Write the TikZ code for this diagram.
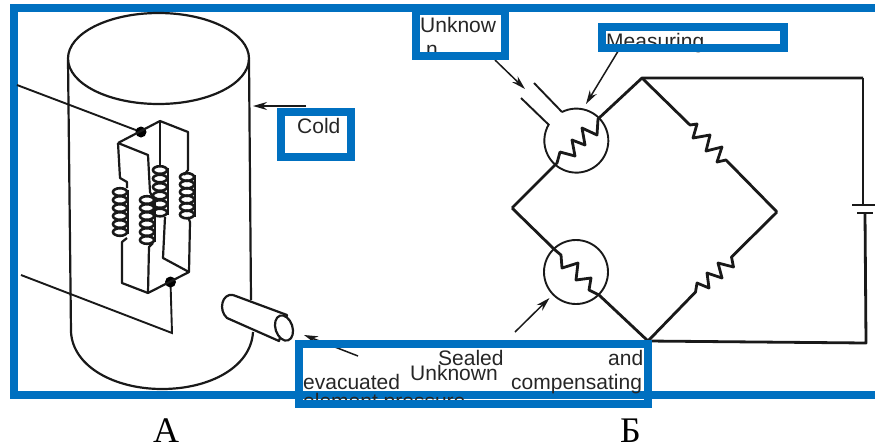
\documentclass[tikz,border=0pt]{standalone}
\usepackage{fontspec}
\setmainfont{Liberation Serif}
\newfontfamily\boxfont{Liberation Sans}
\usetikzlibrary{calc}
\usetikzlibrary{arrows.meta}

\definecolor{boxblue}{HTML}{0070C0}
\tikzset{
  bluebox/.style={draw=boxblue,line width=8pt},
  boxtext/.style={anchor=base west,inner sep=0pt,text=black!85,font=\boxfont\fontsize{21}{24}\selectfont},
  caption/.style={anchor=base west,inner sep=0pt,font=\fontsize{36}{40}\selectfont},
  body/.style={black!90,line width=2.2pt,line join=round},
  wire/.style={black!90,line width=2.8pt,line join=round},
  thinwire/.style={black!90,line width=1.9pt},
  pointer/.style={black!90,line width=1.5pt,-{Stealth[length=14pt,width=8pt]}},
  ring/.style={black!90,line width=2.6pt},
}
\newcommand{\coilstack}[3]{%
  \foreach \k in {0,...,5} \draw[ring] (#1,#2+\k*#3) ellipse (7 and 3.8);
  \draw[ring] (#1+8,#2-2) -- (#1+8,#2+5*#3+2);
}

\begin{document}
\begin{tikzpicture}[x=1pt,y=-1pt]
\useasboundingbox (0,0) rectangle (875,445);

% outer frame
\coordinate (FA) at (875,8);
\coordinate (FB) at (14,8);
\coordinate (FC) at (14,395);
\coordinate (FD) at (875,395);
\draw[bluebox] (FA)--(FB)--(FC)--(FD);

% vessel
\draw[body] (158.5,58.5) ellipse (90.5 and 45.5);
\draw[body] (68,60) -- (71,332) .. controls (73,367) and (115,389) .. (162,389)
  .. controls (210,389) and (251,367) .. (253,332);
\draw[body] (249,60) -- (251,300);

% leads
\coordinate (DA) at (141,132);
\coordinate (DB) at (170.5,282);
\coordinate (LC) at (172,333);
\draw[thinwire] (17,85) -- (DA);
\draw[thinwire] (21,275) -- (LC) -- (DB);
\fill[black] (DA) circle (5.5);
\fill[black] (DB) circle (5.5);

% element frame
\coordinate (PA) at (118,143);
\coordinate (PB) at (160,121);
\coordinate (PC) at (188,132);
\coordinate (PD) at (189,272);
\coordinate (PE) at (148,293);
\coordinate (PF) at (122,283);
\draw[body] (PA)--(PB)--(PC)--(188,170)--(184,175);
\draw[body] (188,217)--(190,222)--(PD)--(PE)--(PF)--(122,242)--(127,238);
\draw[body] (PA)--(120,178)--(127,182)--(127,188);
\draw[body] (PA)--(148,155)--(150,192)--(153,198);
\draw[body] (153,243)--(149,247)--(PE);
\draw[body] (PB)--(160,165);
\draw[body] (165,217)--(163,258)--(PD);
\coilstack{120}{192}{8}
\coilstack{147}{200}{8}
\coilstack{160}{170}{8.5}
\coilstack{187}{177}{7.5}

% side tube
\coordinate (TA) at (233,295);
\coordinate (TB) at (287,315);
\coordinate (TC) at (279,341);
\coordinate (TD) at (227,318);
\filldraw[body,fill=white] (TA)--(TB)--(TC)--(TD) .. controls (218,310) and (222,293) .. (TA);
\draw[body,fill=white,rotate around={18:(284,328)}] (284,328) ellipse (8.5 and 13);

% bridge
\coordinate (top) at (642,78);
\coordinate (left) at (512,208);
\coordinate (right) at (777,212);
\coordinate (bottom) at (648,341);
\coordinate (corner) at (863,78);
\coordinate (corneb) at (866,343);
\coordinate (platea) at (863,205);
\coordinate (plateb) at (865,213);
\coordinate (gaugea) at (577,142);
\coordinate (gaugeb) at (576,272);

\draw[wire] (corner) -- (top) -- (598,119) -- (597,135) -- (582,128) -- (585,145) -- (572,140)
  -- (575,156) -- (560,152) -- (557,163) -- (left);
\draw[wire] (left) -- (555,250) -- (561,255) -- (562,268) -- (578,263) -- (576,280)
  -- (591,278) -- (589,290) -- (599,295) -- (bottom);
\draw[wire] (top) -- (690,125) -- (697,124) -- (693,138) -- (710,135) -- (706,151)
  -- (722,147) -- (717,162) -- (726,160) -- (right);
\draw[wire] (bottom) -- (695.5,292) -- (697,283) -- (709,288) -- (707,273) -- (722,278)
  -- (718,263) -- (733.5,267) -- (731.5,257) -- (right);
\draw[wire] (corner) -- (platea);
\draw[wire] (plateb) -- (corneb) -- (bottom);
\draw[wire] (852,205) -- (875,205);
\draw[wire] (857,213) -- (873,213);

% gauges
\draw[thinwire] (gaugea) ++(-15,-30) arc[start angle=243.4,end angle=571.3,radius=32];
\draw[thinwire] (gaugeb) circle (32);
\draw[thinwire] (562,112) -- (534,83);
\draw[thinwire] (549,125) -- (521,98);

% pointers
\coordinate (AA) at (306,106);
\coordinate (AB) at (253,106);
\draw[pointer] (AA) -- (AB);
\draw[pointer] (358,356) -- (304,335);
\draw[pointer] (495,60) -- (525,89);
\draw[pointer] (620,48) -- (586,104);
\draw[pointer] (515,332) -- (549.5,298);

% box texts
\node[boxtext] (cold) at (297,133) {Cold};
\node[boxtext] (unkna) at (420,32) {Unknow};
\node[boxtext] (unknb) at (426,56) {n};
\node[boxtext] (meas) at (606,48) {Measuring};
\begin{scope}
\clip (303,348) rectangle (644,399.5);
\node[boxtext] (sealed) at (438,365) {Sealed};
\node[boxtext] (and) at (608,365) {and};
\node[boxtext] (unknc) at (410,380) {Unknown};
\node[boxtext] (evac) at (303,389) {evacuated};
\node[boxtext] (comp) at (511,389) {compensating};
\node[boxtext] (elem) at (303,408) {element pressure};
\end{scope}

% text boxes
\draw[bluebox] (280.5,112) rectangle (350.5,157);
\draw[bluebox] (416,11) rectangle (505,56);
\draw[bluebox] (602,27) rectangle (783.5,48);
\draw[bluebox] (299,344) rectangle (648,404);

% captions
\node[caption] (capa) at (153,442) {А};
\node[caption] (capb) at (620,442) {Б};

\end{tikzpicture}
\end{document}
